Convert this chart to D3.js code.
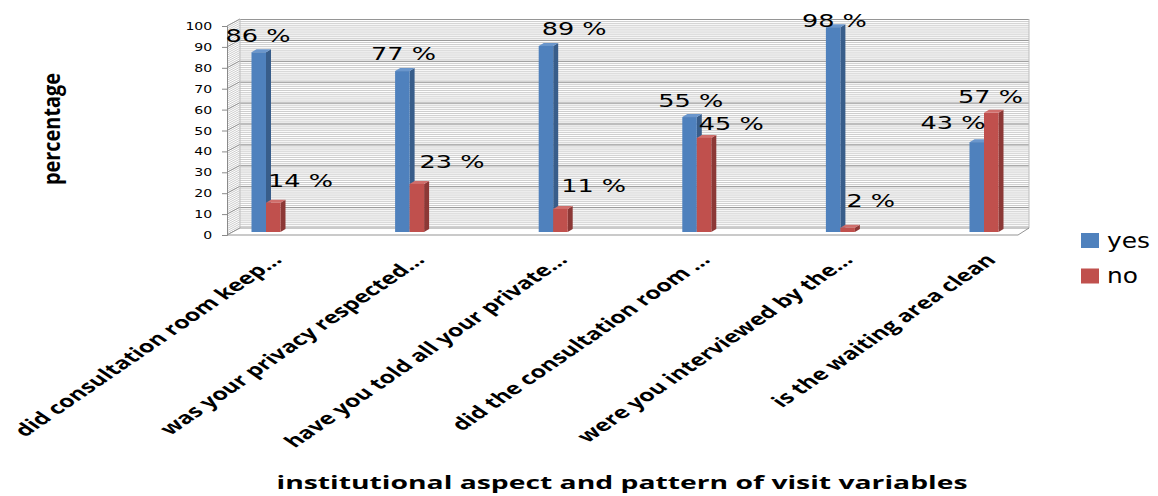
<!DOCTYPE html>
<html>
<head>
<meta charset="utf-8">
<script src="https://cdn.jsdelivr.net/npm/d3@7"></script>
<style>
  html, body { margin: 0; padding: 0; background: #fff; }
  svg { display: block; }
</style>
</head>
<body>
<svg id="chart" width="1158" height="496"></svg>
<script>
// ---------- data ----------
const categories = [
  "did consultation room keep…",
  "was your privacy respected…",
  "have you told all your private…",
  "did the consultation room …",
  "were you interviewed by the…",
  "is the waiting area clean"
];
const seriesNames = ["yes", "no"];
const yesValues = [86, 77, 89, 55, 98, 43];
const noValues  = [14, 23, 11, 45, 2, 57];
const yTicks = [0, 10, 20, 30, 40, 50, 60, 70, 80, 90, 100];
const xTitle = "institutional aspect and pattern of visit variables";
const yTitle = "percentage";

// ---------- layout (not data) ----------
const yesLabelOffset = [[-26, -10], [-24, -11], [3, -11], [-24, -10], [-24, 0], [-49, -13]];
const noLabelOffset  = [[2, -16], [10, -16], [8, -17], [2, -8], [6, -21], [-26, -10]];
const colors = {
  yes: { front: "#4F81BD", side: "#385D8A", top: "#6A96CC" },
  no:  { front: "#C0504D", side: "#8C3836", top: "#D06E6B" }
};
const depthX = 13, depthY = 7;     // wall depth offset
const barDX = 5, barDY = 3;        // bar side depth
const barW = 14.5;
const S = 1.42;                    // horizontal stretch of the picture

const svg = d3.select("#chart");

const y = d3.scaleLinear().domain([0, 100]).range([235, 26]);
const xFront = [227, 1018];
const xBar = d3.scalePoint().domain(categories).range([266, 984]);
const xLab = d3.scalePoint().domain(categories).range([283, 997]);

// ---------- walls ----------
const walls = svg.append("g");
const bx0 = xFront[0] + depthX, bx1 = xFront[1] + 11;
walls.append("rect")
  .attr("x", bx0).attr("y", y(100) - depthY)
  .attr("width", bx1 - bx0).attr("height", y(0) - y(100))
  .attr("fill", "#fff");
const minor = d3.range(0, 100.01, 1);
walls.selectAll("line.minorB").data(minor).join("line")
  .attr("x1", bx0).attr("x2", bx1)
  .attr("y1", d => y(d) - depthY + 0.5).attr("y2", d => y(d) - depthY + 0.5)
  .attr("stroke", "#c6c6c6").attr("stroke-width", 0.9);
walls.selectAll("line.minorL").data(minor).join("line")
  .attr("x1", xFront[0]).attr("x2", bx0)
  .attr("y1", d => y(d)).attr("y2", d => y(d) - depthY)
  .attr("stroke", "#c6c6c6").attr("stroke-width", 0.9);
walls.selectAll("line.majorB").data(yTicks).join("line")
  .attr("x1", bx0).attr("x2", bx1)
  .attr("y1", d => y(d) - depthY + 0.5).attr("y2", d => y(d) - depthY + 0.5)
  .attr("stroke", "#959595").attr("stroke-width", 1);
walls.selectAll("line.majorL").data(yTicks).join("line")
  .attr("x1", xFront[0]).attr("x2", bx0)
  .attr("y1", d => y(d)).attr("y2", d => y(d) - depthY)
  .attr("stroke", "#959595").attr("stroke-width", 1);
walls.append("line").attr("x1", bx1).attr("x2", bx1)
  .attr("y1", y(100) - depthY).attr("y2", y(0) - depthY)
  .attr("stroke", "#bdbdbd");
walls.append("line").attr("x1", bx0).attr("x2", bx0)
  .attr("y1", y(100) - depthY).attr("y2", y(0) - depthY)
  .attr("stroke", "#bdbdbd");
walls.append("path")
  .attr("d", `M${xFront[0]},${y(0)} L${bx0},${y(0) - depthY} L${bx1},${y(0) - depthY} L${xFront[1]},${y(0)} Z`)
  .attr("fill", "#fff").attr("stroke", "#959595").attr("stroke-width", 1);

// ---------- y axis ----------
const yAxisG = svg.append("g").attr("transform", `translate(${xFront[0]},0)`)
  .call(d3.axisLeft(y).tickValues(yTicks).tickSize(5).tickPadding(6.5));
yAxisG.select(".domain").attr("stroke", "#8a8a8a");
yAxisG.selectAll(".tick line").attr("stroke", "#8a8a8a");
yAxisG.selectAll(".tick text")
  .attr("font-family", "DejaVu Sans").attr("font-size", 11).attr("fill", "#000")
  .attr("transform", "scale(1.28,1)");

// ---------- bars ----------
function bar3d(g, xl, val, c) {
  const yt = y(val) - 3, yb = y(0) - 3;
  g.append("path")
    .attr("d", `M${xl + barW},${yt} L${xl + barW + barDX},${yt - barDY} L${xl + barW + barDX},${yb - barDY} L${xl + barW},${yb} Z`)
    .attr("fill", c.side);
  g.append("path")
    .attr("d", `M${xl},${yt} L${xl + barDX},${yt - barDY} L${xl + barW + barDX},${yt - barDY} L${xl + barW},${yt} Z`)
    .attr("fill", c.top);
  g.append("rect").attr("x", xl).attr("y", yt).attr("width", barW).attr("height", yb - yt)
    .attr("fill", c.front);
}
const barsG = svg.append("g");
categories.forEach((cat, i) => {
  const cx = xBar(cat);
  bar3d(barsG, cx - barW, yesValues[i], colors.yes);
  bar3d(barsG, cx, noValues[i], colors.no);
});

// ---------- value labels ----------
const labG = svg.append("g").attr("font-family", "DejaVu Sans").attr("font-size", 18).attr("fill", "#000");
categories.forEach((cat, i) => {
  const cx = xBar(cat);
  const pts = [
    [cx - barW + yesLabelOffset[i][0], y(yesValues[i]) - 3 + yesLabelOffset[i][1], yesValues[i]],
    [cx + noLabelOffset[i][0], y(noValues[i]) - 3 + noLabelOffset[i][1], noValues[i]]
  ];
  pts.forEach(p => {
    labG.append("text")
      .attr("transform", `translate(${p[0]},${p[1]}) scale(${S},1)`)
      .text(`${p[2]} %`);
  });
});

// ---------- category labels ----------
const catG = svg.append("g").attr("font-family", "Open Sans").attr("font-weight", "bold")
  .attr("font-size", 17).attr("fill", "#000");
const catTexts = catG.selectAll("text").data(categories).join("text")
  .attr("text-anchor", "end")
  .attr("transform", d => `translate(${xLab(d)},261) scale(1.46,1) rotate(-45)`)
  .text(d => d);
const base = catTexts.nodes()[0].getComputedTextLength();
const k = 250 / base;
catTexts.each(function () {
  const L = this.getComputedTextLength();
  d3.select(this).attr("textLength", L * k).attr("lengthAdjust", "spacingAndGlyphs");
});

// ---------- axis titles ----------
svg.append("text")
  .attr("x", 622).attr("y", 489)
  .attr("text-anchor", "middle")
  .attr("font-family", "Open Sans").attr("font-weight", "bold").attr("font-size", 18)
  .attr("textLength", 691).attr("lengthAdjust", "spacingAndGlyphs")
  .text(xTitle);
svg.append("text")
  .attr("transform", "translate(60,129) scale(1.4,1) rotate(-90)")
  .attr("text-anchor", "middle")
  .attr("font-family", "Open Sans").attr("font-weight", "bold").attr("font-size", 16)
  .attr("textLength", 112).attr("lengthAdjust", "spacingAndGlyphs")
  .text(yTitle);

// ---------- legend ----------
const legendColors = [colors.yes.front, colors.no.front];
const leg = svg.append("g");
seriesNames.forEach((name, i) => {
  const ly = 233 + i * 35.5;
  leg.append("rect").attr("x", 1081).attr("y", ly).attr("width", 18).attr("height", 15)
    .attr("fill", legendColors[i]);
  leg.append("text")
    .attr("transform", `translate(1107,${ly + 14.5}) scale(1.13,1)`)
    .attr("font-family", "DejaVu Sans").attr("font-size", 22).attr("fill", "#000")
    .text(name);
});
</script>
</body>
</html>
